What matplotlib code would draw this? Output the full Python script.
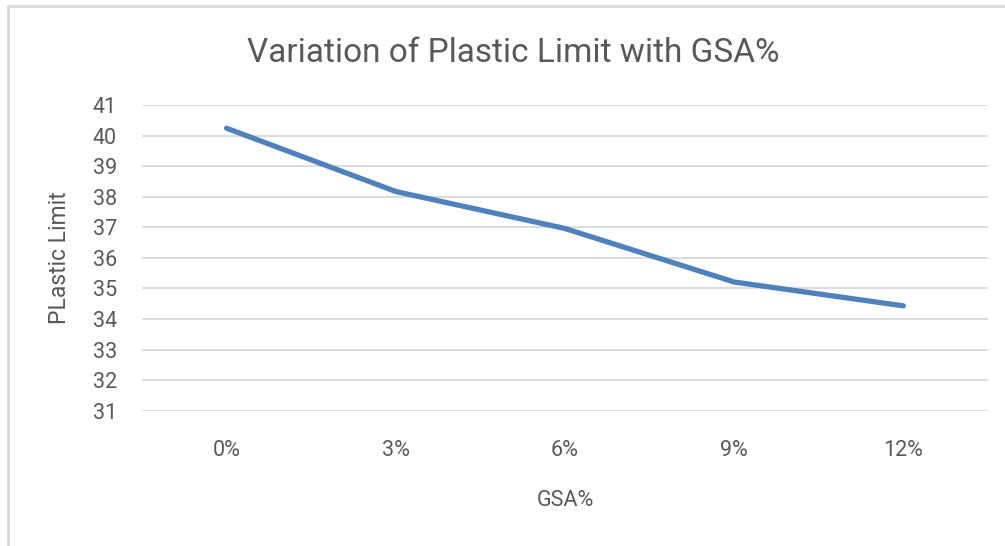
import matplotlib.pyplot as plt
from matplotlib.patches import Rectangle

# data
gsa_labels = ['0%', '3%', '6%', '9%', '12%']
plastic_limit = [40.24, 38.17, 36.96, 35.21, 34.43]
y_ticks = [31, 32, 33, 34, 35, 36, 37, 38, 39, 40, 41]

plt.rcParams['font.family'] = ['Roboto', 'DejaVu Sans']
text_col = '#595959'

fig = plt.figure(figsize=(10.05, 5.46), dpi=100)
ax = fig.add_axes([0.1413, 0.2478, 0.8417, 0.5599])

x = list(range(len(gsa_labels)))
ax.plot(x, plastic_limit, color='#4F81BD', linewidth=3.8,
        solid_capstyle='round', solid_joinstyle='round', zorder=3)

ax.set_xlim(-0.5, len(gsa_labels) - 0.5)
ax.set_ylim(31, 41)
ax.set_yticks(y_ticks)
ax.set_xticks(x)
ax.set_xticklabels(gsa_labels)
ax.grid(axis='y', color='#D9D9D9', linewidth=1.3)
ax.set_axisbelow(True)
for s in ax.spines.values():
    s.set_visible(False)
ax.tick_params(axis='both', length=0, labelsize=15.5, labelcolor=text_col)
ax.tick_params(axis='x', pad=21)
ax.tick_params(axis='y', pad=18)

ax.set_xlabel('GSA%', fontsize=15.5, color=text_col, labelpad=21)
ax.set_ylabel('PLastic Limit', fontsize=16.5, color=text_col, labelpad=16)

fig.text(0.511, 0.903, 'Variation of Plastic Limit with GSA%',
         ha='center', va='center', fontsize=24, color=text_col)

# light frame of the chart area
fig.patches.append(Rectangle((0.008, -0.01), 1.2, 0.999, transform=fig.transFigure,
                             fill=False, edgecolor='#D9D9D9', linewidth=2))

fig.savefig('out.png', dpi=100)
